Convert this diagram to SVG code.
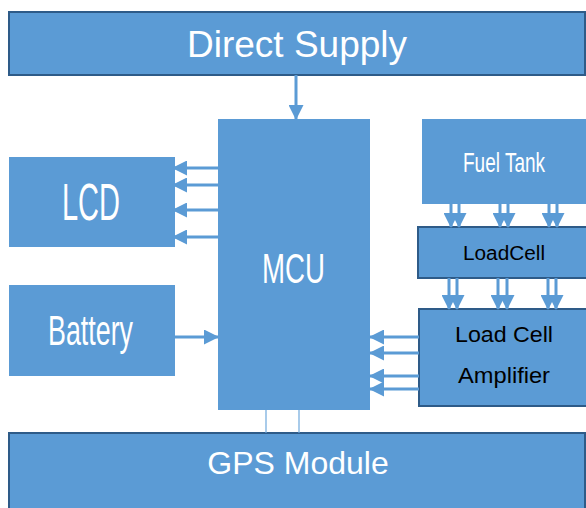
<svg xmlns="http://www.w3.org/2000/svg" width="586" height="508" viewBox="0 0 586 508">
<style>
.box{fill:#5b9bd5}
.bord{fill:#5b9bd5;stroke:#2e5b88;stroke-width:2}
.w{fill:#ffffff;font-family:"Liberation Sans",Arial,sans-serif}
.k{fill:#000000;font-family:"Liberation Sans",Arial,sans-serif}
.c{stroke:#5b9bd5;stroke-width:3;fill:none}
.thin{stroke:#6fa8dc;stroke-width:1.2;fill:none}
</style>
<defs>
<marker id="ah" markerUnits="userSpaceOnUse" markerWidth="15" markerHeight="15" refX="14" refY="7.5" orient="auto" viewBox="0 0 15 15">
<path d="M0,0 L15,7.5 L0,15 z" fill="#5b9bd5"/>
</marker>
</defs>
<rect width="586" height="508" fill="#ffffff"/>
<g id="direct-supply">
<rect class="bord" x="9" y="12" width="576" height="63"/>
<text class="w" x="297" y="57" font-size="37" text-anchor="middle">Direct Supply</text>
</g>
<g id="mcu">
<rect class="box" x="218" y="119" width="152" height="291"/>
<text class="w" x="293.5" y="283" font-size="42" text-anchor="middle" textLength="63" lengthAdjust="spacingAndGlyphs">MCU</text>
</g>
<g id="lcd">
<rect class="box" x="9" y="157" width="166" height="90"/>
<text class="w" x="91" y="220" font-size="51" text-anchor="middle" textLength="58" lengthAdjust="spacingAndGlyphs">LCD</text>
</g>
<g id="battery">
<rect class="box" x="9" y="285" width="166" height="91"/>
<text class="w" x="90.5" y="345" font-size="42" text-anchor="middle" textLength="85" lengthAdjust="spacingAndGlyphs">Battery</text>
</g>
<g id="fuel-tank">
<rect class="box" x="422" y="119" width="164" height="85"/>
<text class="w" x="504" y="172" font-size="28" text-anchor="middle" textLength="82" lengthAdjust="spacingAndGlyphs">Fuel Tank</text>
</g>
<g id="loadcell">
<rect class="bord" x="418" y="227" width="170" height="51"/>
<text class="k" x="504" y="260" font-size="20" text-anchor="middle" textLength="82" lengthAdjust="spacingAndGlyphs">LoadCell</text>
</g>
<g id="amplifier">
<rect class="bord" x="419" y="309" width="170" height="97"/>
<text class="k" x="504" y="342" font-size="22" text-anchor="middle" textLength="98" lengthAdjust="spacingAndGlyphs">Load Cell</text>
<text class="k" x="504" y="383" font-size="22" text-anchor="middle" textLength="92" lengthAdjust="spacingAndGlyphs">Amplifier</text>
</g>
<g id="gps">
<rect class="bord" x="9" y="433" width="576" height="80"/>
<text class="w" x="298" y="474" font-size="32" text-anchor="middle">GPS Module</text>
</g>
<g id="connectors">
<line class="c" x1="296" y1="75" x2="296" y2="119" marker-end="url(#ah)"/>
<line class="c" x1="218" y1="168" x2="173" y2="168" marker-end="url(#ah)"/>
<line class="c" x1="218" y1="185" x2="173" y2="185" marker-end="url(#ah)"/>
<line class="c" x1="218" y1="210" x2="173" y2="210" marker-end="url(#ah)"/>
<line class="c" x1="218" y1="237" x2="173" y2="237" marker-end="url(#ah)"/>
<line class="c" x1="175" y1="337" x2="218" y2="337" marker-end="url(#ah)"/>
<line class="c" x1="419" y1="337" x2="370" y2="337" marker-end="url(#ah)"/>
<line class="c" x1="419" y1="353" x2="370" y2="353" marker-end="url(#ah)"/>
<line class="c" x1="419" y1="376" x2="370" y2="376" marker-end="url(#ah)"/>
<line class="c" x1="419" y1="389" x2="370" y2="389" marker-end="url(#ah)"/>
<line class="c" x1="451" y1="204" x2="451" y2="227" marker-end="url(#ah)"/>
<line class="c" x1="459" y1="204" x2="459" y2="227" marker-end="url(#ah)"/>
<line class="c" x1="500" y1="204" x2="500" y2="227" marker-end="url(#ah)"/>
<line class="c" x1="508" y1="204" x2="508" y2="227" marker-end="url(#ah)"/>
<line class="c" x1="549" y1="204" x2="549" y2="227" marker-end="url(#ah)"/>
<line class="c" x1="557" y1="204" x2="557" y2="227" marker-end="url(#ah)"/>
<line class="c" x1="449" y1="278" x2="449" y2="309" marker-end="url(#ah)"/>
<line class="c" x1="457" y1="278" x2="457" y2="309" marker-end="url(#ah)"/>
<line class="c" x1="498" y1="278" x2="498" y2="309" marker-end="url(#ah)"/>
<line class="c" x1="507" y1="278" x2="507" y2="309" marker-end="url(#ah)"/>
<line class="c" x1="548" y1="278" x2="548" y2="309" marker-end="url(#ah)"/>
<line class="c" x1="556" y1="278" x2="556" y2="309" marker-end="url(#ah)"/>
<line class="thin" x1="266" y1="410" x2="266" y2="433"/>
<line class="thin" x1="299" y1="410" x2="299" y2="433"/>
</g>
</svg>
